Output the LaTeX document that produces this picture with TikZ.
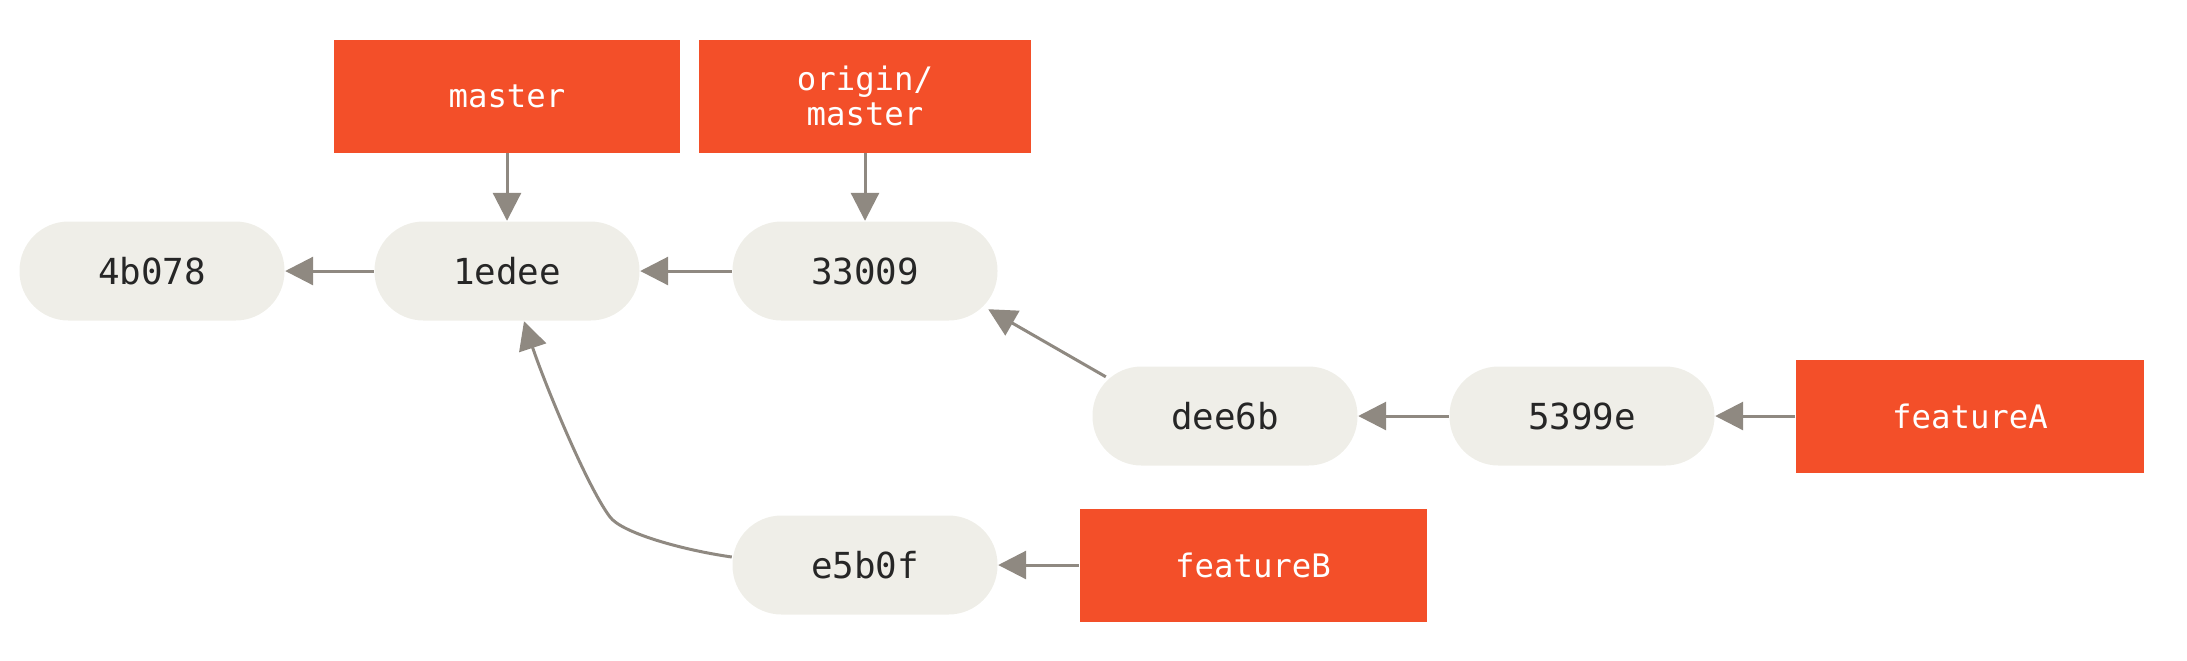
\documentclass[tikz,border=0pt]{standalone}
\usepackage{fontspec}
\setmonofont{DejaVu Sans Mono}
\usetikzlibrary{arrows.meta}
\definecolor{gitorange}{RGB}{243,79,41}
\definecolor{commitfill}{RGB}{239,238,232}
\definecolor{arrowgray}{RGB}{143,137,129}
\tikzset{
  commit/.style={rectangle, rounded corners=0.49cm, fill=commitfill,
    minimum width=2.65cm, minimum height=0.99cm, text=black!85,
    font=\ttfamily\fontsize{10.2}{12}\selectfont},
  branch/.style={rectangle, fill=gitorange, text=white, align=center,
    minimum width=3.46cm, minimum height=1.13cm,
    font=\ttfamily\fontsize{9.2}{10.2}\selectfont},
  arr/.style={draw=arrowgray, line width=0.03cm,
    -{Triangle[length=0.28cm,width=0.28cm]}}
}
\begin{document}
\begin{tikzpicture}
  \useasboundingbox (0,0) rectangle (21.87,-6.60);
  % commits
  \node[commit] (c4b078) at (1.52,-2.71) {4b078};
  \node[commit] (c1edee) at (5.07,-2.71) {1edee};
  \node[commit] (c33009) at (8.65,-2.71) {33009};
  \node[commit] (cdee6b) at (12.25,-4.16) {dee6b};
  \node[commit] (c5399e) at (15.82,-4.16) {5399e};
  \node[commit] (ce5b0f) at (8.65,-5.65) {e5b0f};
  % branches
  \node[branch] (master) at (5.07,-0.96) {master};
  \node[branch, minimum width=3.32cm] (origin) at (8.65,-0.96) {origin/\\master};
  \node[branch, minimum width=3.48cm] (featA) at (19.70,-4.16) {featureA};
  \node[branch, minimum width=3.47cm] (featB) at (12.53,-5.65) {featureB};
  \coordinate (bend) at (6.10,-5.17);
  \draw [arr] (c1edee) -- (c4b078);
  \draw [arr] (c33009) -- (c1edee);
  \draw [arr] (c5399e) -- (cdee6b);
  \draw [arr] ([xshift=0.14cm,yshift=-0.11cm]cdee6b.north west) -- ([xshift=-0.10cm,yshift=0.12cm]c33009.south east);
  \draw [arr] ([yshift=0.08cm]ce5b0f.west) .. controls (6.825,-5.50) and (6.22,-5.33) .. (bend)
    .. controls (5.86,-4.85) and (5.43,-3.79) .. ([xshift=0.17cm]c1edee.south);
  \draw [arr] (master) -- (c1edee);
  \draw [arr] (origin) -- (c33009);
  \draw [arr] (featA) -- (c5399e);
  \draw [arr] (featB) -- (ce5b0f);
\end{tikzpicture}
\end{document}
